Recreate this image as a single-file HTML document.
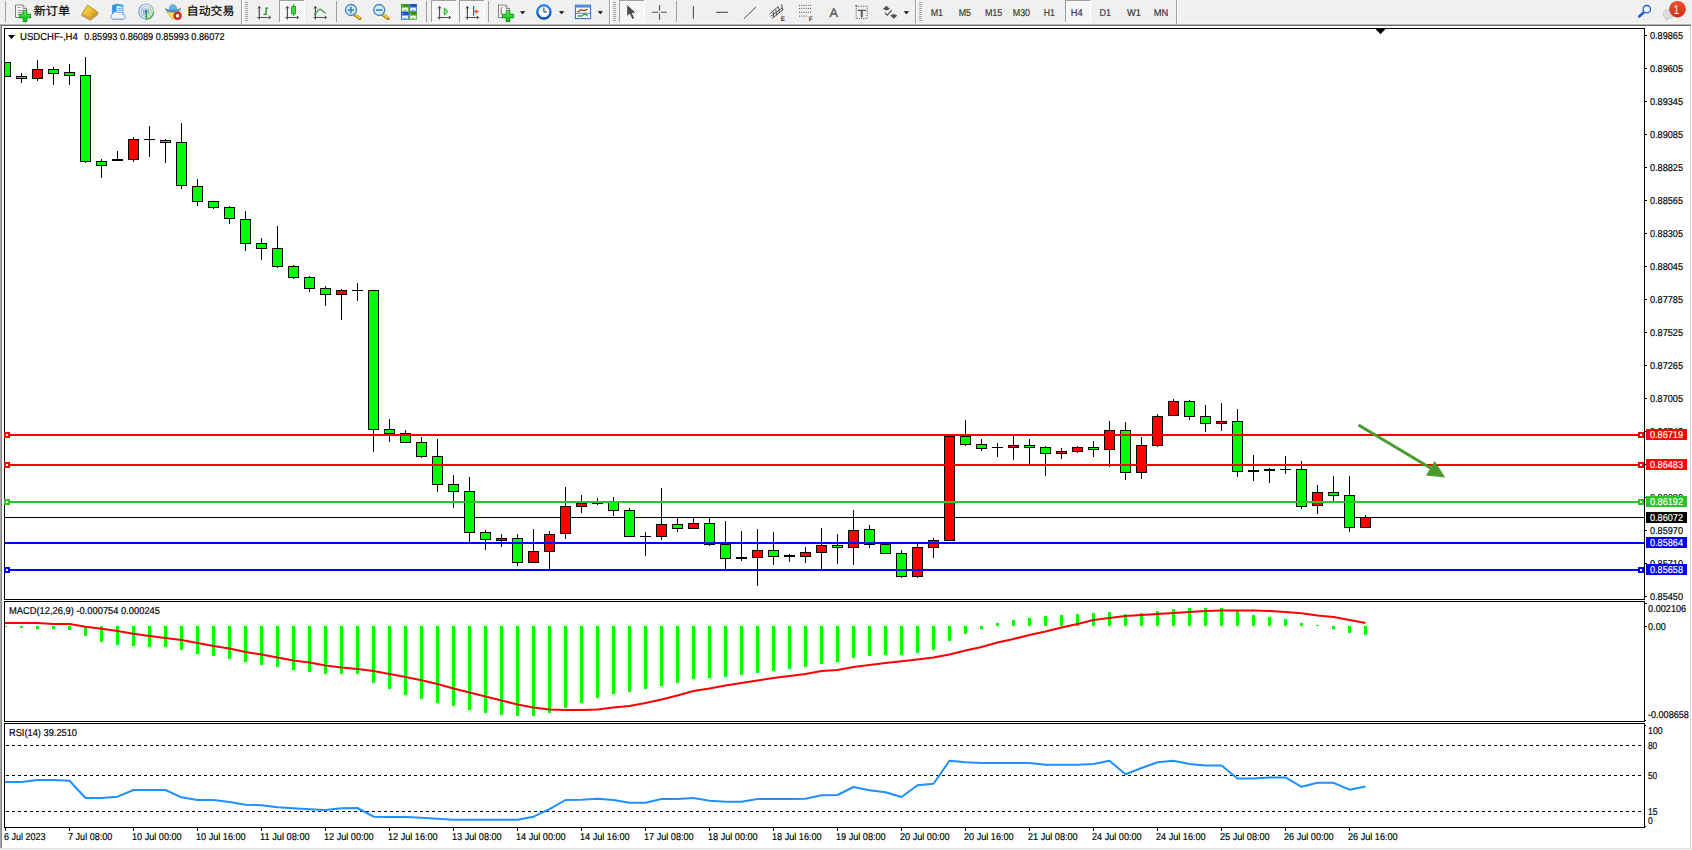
<!DOCTYPE html>
<html><head><meta charset="utf-8"><title>USDCHF-,H4</title>
<style>html,body{margin:0;padding:0;background:#fff;overflow:hidden}svg{display:block}text{font-family:"Liberation Sans", "Noto Sans CJK SC", sans-serif;white-space:pre;text-rendering:geometricPrecision}</style>
</head><body>
<svg width="1692" height="850" viewBox="0 0 1692 850">
<rect x="0" y="0" width="1692" height="850" fill="#fff"/>
<rect x="0" y="0" width="1692" height="24" fill="#f0f0f0"/>
<rect x="0" y="23" width="1691" height="1" fill="#f6f6f6"/>
<rect x="0" y="24" width="1691" height="1" fill="#b4b4b4"/>
<rect x="0" y="25" width="1691" height="1" fill="#696969"/>
<rect x="0" y="24" width="1" height="824" fill="#a9a9a9"/>
<rect x="1" y="26" width="1" height="822" fill="#808080"/>
<rect x="1690" y="26" width="1" height="822" fill="#d9d9d9"/>
<rect x="0" y="848" width="1692" height="1" fill="#e3e3e3"/>
<rect x="0" y="849" width="1692" height="1" fill="#f0f0f0"/>
<rect x="4" y="28" width="1641" height="1" fill="#000"/>
<rect x="4" y="599" width="1641" height="1" fill="#000"/>
<rect x="4" y="28" width="1" height="572" fill="#000"/>
<rect x="1644" y="28" width="1" height="572" fill="#000"/>
<rect x="4" y="601" width="1641" height="1" fill="#000"/>
<rect x="4" y="721" width="1641" height="1" fill="#000"/>
<rect x="4" y="601" width="1" height="121" fill="#000"/>
<rect x="1644" y="601" width="1" height="121" fill="#000"/>
<rect x="4" y="723" width="1641" height="1" fill="#000"/>
<rect x="4" y="827" width="1641" height="1" fill="#000"/>
<rect x="4" y="723" width="1" height="105" fill="#000"/>
<rect x="1644" y="723" width="1" height="105" fill="#000"/>
<g shape-rendering="crispEdges">
<rect x="5" y="517" width="1639" height="1" fill="#000"/>
<rect x="5" y="62" width="6" height="15" fill="#000"/>
<rect x="5" y="63" width="5" height="13" fill="#00ff00"/>
<rect x="21" y="73" width="1" height="10" fill="#000"/>
<rect x="16" y="76" width="11" height="3" fill="#000"/>
<rect x="17" y="77" width="9" height="1" fill="#00ff00"/>
<rect x="37" y="60" width="1" height="21" fill="#000"/>
<rect x="32" y="69" width="11" height="10" fill="#000"/>
<rect x="33" y="70" width="9" height="8" fill="#ff0000"/>
<rect x="53" y="67" width="1" height="18" fill="#000"/>
<rect x="48" y="69" width="11" height="5" fill="#000"/>
<rect x="49" y="70" width="9" height="3" fill="#00ff00"/>
<rect x="69" y="64" width="1" height="21" fill="#000"/>
<rect x="64" y="72" width="11" height="4" fill="#000"/>
<rect x="65" y="73" width="9" height="2" fill="#00ff00"/>
<rect x="85" y="57" width="1" height="106" fill="#000"/>
<rect x="80" y="75" width="11" height="87" fill="#000"/>
<rect x="81" y="76" width="9" height="85" fill="#00ff00"/>
<rect x="101" y="159" width="1" height="19" fill="#000"/>
<rect x="96" y="161" width="11" height="5" fill="#000"/>
<rect x="97" y="162" width="9" height="3" fill="#00ff00"/>
<rect x="117" y="151" width="1" height="10" fill="#000"/>
<rect x="112" y="159" width="11" height="2" fill="#000"/>
<rect x="133" y="137" width="1" height="25" fill="#000"/>
<rect x="128" y="139" width="11" height="21" fill="#000"/>
<rect x="129" y="140" width="9" height="19" fill="#ff0000"/>
<rect x="149" y="126" width="1" height="31" fill="#000"/>
<rect x="144" y="139" width="11" height="1" fill="#000"/>
<rect x="165" y="139" width="1" height="24" fill="#000"/>
<rect x="160" y="140" width="11" height="3" fill="#000"/>
<rect x="161" y="141" width="9" height="1" fill="#00ff00"/>
<rect x="181" y="123" width="1" height="66" fill="#000"/>
<rect x="176" y="142" width="11" height="44" fill="#000"/>
<rect x="177" y="143" width="9" height="42" fill="#00ff00"/>
<rect x="197" y="179" width="1" height="27" fill="#000"/>
<rect x="192" y="186" width="11" height="16" fill="#000"/>
<rect x="193" y="187" width="9" height="14" fill="#00ff00"/>
<rect x="213" y="201" width="1" height="8" fill="#000"/>
<rect x="208" y="201" width="11" height="7" fill="#000"/>
<rect x="209" y="202" width="9" height="5" fill="#00ff00"/>
<rect x="229" y="206" width="1" height="18" fill="#000"/>
<rect x="224" y="207" width="11" height="12" fill="#000"/>
<rect x="225" y="208" width="9" height="10" fill="#00ff00"/>
<rect x="245" y="211" width="1" height="40" fill="#000"/>
<rect x="240" y="219" width="11" height="25" fill="#000"/>
<rect x="241" y="220" width="9" height="23" fill="#00ff00"/>
<rect x="261" y="238" width="1" height="22" fill="#000"/>
<rect x="256" y="243" width="11" height="6" fill="#000"/>
<rect x="257" y="244" width="9" height="4" fill="#00ff00"/>
<rect x="277" y="226" width="1" height="42" fill="#000"/>
<rect x="272" y="248" width="11" height="19" fill="#000"/>
<rect x="273" y="249" width="9" height="17" fill="#00ff00"/>
<rect x="293" y="265" width="1" height="14" fill="#000"/>
<rect x="288" y="266" width="11" height="12" fill="#000"/>
<rect x="289" y="267" width="9" height="10" fill="#00ff00"/>
<rect x="309" y="276" width="1" height="16" fill="#000"/>
<rect x="304" y="277" width="11" height="12" fill="#000"/>
<rect x="305" y="278" width="9" height="10" fill="#00ff00"/>
<rect x="325" y="286" width="1" height="20" fill="#000"/>
<rect x="320" y="288" width="11" height="7" fill="#000"/>
<rect x="321" y="289" width="9" height="5" fill="#00ff00"/>
<rect x="341" y="289" width="1" height="31" fill="#000"/>
<rect x="336" y="290" width="11" height="5" fill="#000"/>
<rect x="337" y="291" width="9" height="3" fill="#ff0000"/>
<rect x="357" y="283" width="1" height="18" fill="#000"/>
<rect x="352" y="290" width="11" height="1" fill="#000"/>
<rect x="373" y="290" width="1" height="162" fill="#000"/>
<rect x="368" y="290" width="11" height="140" fill="#000"/>
<rect x="369" y="291" width="9" height="138" fill="#00ff00"/>
<rect x="389" y="419" width="1" height="23" fill="#000"/>
<rect x="384" y="429" width="11" height="5" fill="#000"/>
<rect x="385" y="430" width="9" height="3" fill="#00ff00"/>
<rect x="405" y="430" width="1" height="13" fill="#000"/>
<rect x="400" y="433" width="11" height="10" fill="#000"/>
<rect x="401" y="434" width="9" height="8" fill="#00ff00"/>
<rect x="421" y="437" width="1" height="21" fill="#000"/>
<rect x="416" y="442" width="11" height="15" fill="#000"/>
<rect x="417" y="443" width="9" height="13" fill="#00ff00"/>
<rect x="437" y="439" width="1" height="53" fill="#000"/>
<rect x="432" y="456" width="11" height="29" fill="#000"/>
<rect x="433" y="457" width="9" height="27" fill="#00ff00"/>
<rect x="453" y="475" width="1" height="33" fill="#000"/>
<rect x="448" y="484" width="11" height="8" fill="#000"/>
<rect x="449" y="485" width="9" height="6" fill="#00ff00"/>
<rect x="469" y="477" width="1" height="66" fill="#000"/>
<rect x="464" y="491" width="11" height="42" fill="#000"/>
<rect x="465" y="492" width="9" height="40" fill="#00ff00"/>
<rect x="485" y="530" width="1" height="20" fill="#000"/>
<rect x="480" y="532" width="11" height="8" fill="#000"/>
<rect x="481" y="533" width="9" height="6" fill="#00ff00"/>
<rect x="501" y="534" width="1" height="13" fill="#000"/>
<rect x="496" y="538" width="11" height="3" fill="#000"/>
<rect x="497" y="539" width="9" height="1" fill="#ff0000"/>
<rect x="517" y="534" width="1" height="32" fill="#000"/>
<rect x="512" y="538" width="11" height="25" fill="#000"/>
<rect x="513" y="539" width="9" height="23" fill="#00ff00"/>
<rect x="533" y="529" width="1" height="34" fill="#000"/>
<rect x="528" y="551" width="11" height="12" fill="#000"/>
<rect x="529" y="552" width="9" height="10" fill="#ff0000"/>
<rect x="549" y="531" width="1" height="39" fill="#000"/>
<rect x="544" y="534" width="11" height="18" fill="#000"/>
<rect x="545" y="535" width="9" height="16" fill="#ff0000"/>
<rect x="565" y="487" width="1" height="52" fill="#000"/>
<rect x="560" y="506" width="11" height="28" fill="#000"/>
<rect x="561" y="507" width="9" height="26" fill="#ff0000"/>
<rect x="581" y="495" width="1" height="18" fill="#000"/>
<rect x="576" y="503" width="11" height="4" fill="#000"/>
<rect x="577" y="504" width="9" height="2" fill="#ff0000"/>
<rect x="597" y="498" width="1" height="7" fill="#000"/>
<rect x="592" y="503" width="11" height="1" fill="#000"/>
<rect x="613" y="497" width="1" height="19" fill="#000"/>
<rect x="608" y="502" width="11" height="9" fill="#000"/>
<rect x="609" y="503" width="9" height="7" fill="#00ff00"/>
<rect x="629" y="508" width="1" height="29" fill="#000"/>
<rect x="624" y="510" width="11" height="27" fill="#000"/>
<rect x="625" y="511" width="9" height="25" fill="#00ff00"/>
<rect x="645" y="532" width="1" height="24" fill="#000"/>
<rect x="640" y="536" width="11" height="1" fill="#000"/>
<rect x="661" y="488" width="1" height="52" fill="#000"/>
<rect x="656" y="524" width="11" height="13" fill="#000"/>
<rect x="657" y="525" width="9" height="11" fill="#ff0000"/>
<rect x="677" y="518" width="1" height="14" fill="#000"/>
<rect x="672" y="524" width="11" height="5" fill="#000"/>
<rect x="673" y="525" width="9" height="3" fill="#00ff00"/>
<rect x="693" y="518" width="1" height="11" fill="#000"/>
<rect x="688" y="523" width="11" height="6" fill="#000"/>
<rect x="689" y="524" width="9" height="4" fill="#ff0000"/>
<rect x="709" y="518" width="1" height="28" fill="#000"/>
<rect x="704" y="523" width="11" height="22" fill="#000"/>
<rect x="705" y="524" width="9" height="20" fill="#00ff00"/>
<rect x="725" y="521" width="1" height="48" fill="#000"/>
<rect x="720" y="544" width="11" height="15" fill="#000"/>
<rect x="721" y="545" width="9" height="13" fill="#00ff00"/>
<rect x="741" y="531" width="1" height="30" fill="#000"/>
<rect x="736" y="557" width="11" height="2" fill="#000"/>
<rect x="757" y="529" width="1" height="57" fill="#000"/>
<rect x="752" y="550" width="11" height="8" fill="#000"/>
<rect x="753" y="551" width="9" height="6" fill="#ff0000"/>
<rect x="773" y="532" width="1" height="33" fill="#000"/>
<rect x="768" y="550" width="11" height="7" fill="#000"/>
<rect x="769" y="551" width="9" height="5" fill="#00ff00"/>
<rect x="789" y="554" width="1" height="8" fill="#000"/>
<rect x="784" y="555" width="11" height="2" fill="#000"/>
<rect x="805" y="547" width="1" height="16" fill="#000"/>
<rect x="800" y="552" width="11" height="5" fill="#000"/>
<rect x="801" y="553" width="9" height="3" fill="#ff0000"/>
<rect x="821" y="528" width="1" height="42" fill="#000"/>
<rect x="816" y="545" width="11" height="8" fill="#000"/>
<rect x="817" y="546" width="9" height="6" fill="#ff0000"/>
<rect x="837" y="534" width="1" height="30" fill="#000"/>
<rect x="832" y="545" width="11" height="3" fill="#000"/>
<rect x="833" y="546" width="9" height="1" fill="#00ff00"/>
<rect x="853" y="510" width="1" height="55" fill="#000"/>
<rect x="848" y="530" width="11" height="18" fill="#000"/>
<rect x="849" y="531" width="9" height="16" fill="#ff0000"/>
<rect x="869" y="525" width="1" height="23" fill="#000"/>
<rect x="864" y="529" width="11" height="16" fill="#000"/>
<rect x="865" y="530" width="9" height="14" fill="#00ff00"/>
<rect x="885" y="544" width="1" height="10" fill="#000"/>
<rect x="880" y="544" width="11" height="10" fill="#000"/>
<rect x="881" y="545" width="9" height="8" fill="#00ff00"/>
<rect x="901" y="550" width="1" height="28" fill="#000"/>
<rect x="896" y="553" width="11" height="24" fill="#000"/>
<rect x="897" y="554" width="9" height="22" fill="#00ff00"/>
<rect x="917" y="544" width="1" height="34" fill="#000"/>
<rect x="912" y="547" width="11" height="30" fill="#000"/>
<rect x="913" y="548" width="9" height="28" fill="#ff0000"/>
<rect x="933" y="538" width="1" height="20" fill="#000"/>
<rect x="928" y="540" width="11" height="8" fill="#000"/>
<rect x="929" y="541" width="9" height="6" fill="#ff0000"/>
<rect x="949" y="436" width="1" height="105" fill="#000"/>
<rect x="944" y="436" width="11" height="105" fill="#000"/>
<rect x="945" y="437" width="9" height="103" fill="#ff0000"/>
<rect x="965" y="420" width="1" height="26" fill="#000"/>
<rect x="960" y="436" width="11" height="9" fill="#000"/>
<rect x="961" y="437" width="9" height="7" fill="#00ff00"/>
<rect x="981" y="439" width="1" height="12" fill="#000"/>
<rect x="976" y="444" width="11" height="5" fill="#000"/>
<rect x="977" y="445" width="9" height="3" fill="#00ff00"/>
<rect x="997" y="443" width="1" height="14" fill="#000"/>
<rect x="992" y="447" width="11" height="1" fill="#000"/>
<rect x="1013" y="436" width="1" height="24" fill="#000"/>
<rect x="1008" y="445" width="11" height="3" fill="#000"/>
<rect x="1009" y="446" width="9" height="1" fill="#ff0000"/>
<rect x="1029" y="439" width="1" height="26" fill="#000"/>
<rect x="1024" y="445" width="11" height="3" fill="#000"/>
<rect x="1025" y="446" width="9" height="1" fill="#00ff00"/>
<rect x="1045" y="446" width="1" height="30" fill="#000"/>
<rect x="1040" y="447" width="11" height="7" fill="#000"/>
<rect x="1041" y="448" width="9" height="5" fill="#00ff00"/>
<rect x="1061" y="448" width="1" height="11" fill="#000"/>
<rect x="1056" y="451" width="11" height="3" fill="#000"/>
<rect x="1057" y="452" width="9" height="1" fill="#ff0000"/>
<rect x="1077" y="446" width="1" height="7" fill="#000"/>
<rect x="1072" y="447" width="11" height="5" fill="#000"/>
<rect x="1073" y="448" width="9" height="3" fill="#ff0000"/>
<rect x="1093" y="441" width="1" height="16" fill="#000"/>
<rect x="1088" y="447" width="11" height="3" fill="#000"/>
<rect x="1089" y="448" width="9" height="1" fill="#00ff00"/>
<rect x="1109" y="421" width="1" height="46" fill="#000"/>
<rect x="1104" y="430" width="11" height="20" fill="#000"/>
<rect x="1105" y="431" width="9" height="18" fill="#ff0000"/>
<rect x="1125" y="422" width="1" height="58" fill="#000"/>
<rect x="1120" y="430" width="11" height="43" fill="#000"/>
<rect x="1121" y="431" width="9" height="41" fill="#00ff00"/>
<rect x="1141" y="437" width="1" height="42" fill="#000"/>
<rect x="1136" y="445" width="11" height="28" fill="#000"/>
<rect x="1137" y="446" width="9" height="26" fill="#ff0000"/>
<rect x="1157" y="414" width="1" height="33" fill="#000"/>
<rect x="1152" y="416" width="11" height="30" fill="#000"/>
<rect x="1153" y="417" width="9" height="28" fill="#ff0000"/>
<rect x="1173" y="399" width="1" height="17" fill="#000"/>
<rect x="1168" y="401" width="11" height="15" fill="#000"/>
<rect x="1169" y="402" width="9" height="13" fill="#ff0000"/>
<rect x="1189" y="400" width="1" height="20" fill="#000"/>
<rect x="1184" y="401" width="11" height="16" fill="#000"/>
<rect x="1185" y="402" width="9" height="14" fill="#00ff00"/>
<rect x="1205" y="405" width="1" height="27" fill="#000"/>
<rect x="1200" y="416" width="11" height="8" fill="#000"/>
<rect x="1201" y="417" width="9" height="6" fill="#00ff00"/>
<rect x="1221" y="403" width="1" height="28" fill="#000"/>
<rect x="1216" y="421" width="11" height="3" fill="#000"/>
<rect x="1217" y="422" width="9" height="1" fill="#ff0000"/>
<rect x="1237" y="409" width="1" height="68" fill="#000"/>
<rect x="1232" y="421" width="11" height="51" fill="#000"/>
<rect x="1233" y="422" width="9" height="49" fill="#00ff00"/>
<rect x="1253" y="455" width="1" height="26" fill="#000"/>
<rect x="1248" y="470" width="11" height="2" fill="#000"/>
<rect x="1269" y="468" width="1" height="15" fill="#000"/>
<rect x="1264" y="469" width="11" height="2" fill="#000"/>
<rect x="1285" y="456" width="1" height="18" fill="#000"/>
<rect x="1280" y="469" width="11" height="1" fill="#000"/>
<rect x="1301" y="461" width="1" height="48" fill="#000"/>
<rect x="1296" y="469" width="11" height="38" fill="#000"/>
<rect x="1297" y="470" width="9" height="36" fill="#00ff00"/>
<rect x="1317" y="485" width="1" height="29" fill="#000"/>
<rect x="1312" y="492" width="11" height="14" fill="#000"/>
<rect x="1313" y="493" width="9" height="12" fill="#ff0000"/>
<rect x="1333" y="476" width="1" height="25" fill="#000"/>
<rect x="1328" y="492" width="11" height="4" fill="#000"/>
<rect x="1329" y="493" width="9" height="2" fill="#00ff00"/>
<rect x="1349" y="476" width="1" height="56" fill="#000"/>
<rect x="1344" y="495" width="11" height="33" fill="#000"/>
<rect x="1345" y="496" width="9" height="31" fill="#00ff00"/>
<rect x="1365" y="515" width="1" height="13" fill="#000"/>
<rect x="1360" y="517" width="11" height="11" fill="#000"/>
<rect x="1361" y="518" width="9" height="9" fill="#ff0000"/>
<rect x="5" y="434" width="1639" height="2" fill="#ff0000"/>
<rect x="4" y="432" width="6" height="6" fill="#ff0000"/>
<rect x="6" y="434" width="2" height="2" fill="#fff"/>
<rect x="1638" y="432" width="6" height="6" fill="#ff0000"/>
<rect x="1640" y="434" width="2" height="2" fill="#fff"/>
<rect x="5" y="464" width="1639" height="2" fill="#ff0000"/>
<rect x="4" y="462" width="6" height="6" fill="#ff0000"/>
<rect x="6" y="464" width="2" height="2" fill="#fff"/>
<rect x="1638" y="462" width="6" height="6" fill="#ff0000"/>
<rect x="1640" y="464" width="2" height="2" fill="#fff"/>
<rect x="5" y="501" width="1639" height="2" fill="#28c428"/>
<rect x="4" y="499" width="6" height="6" fill="#28c428"/>
<rect x="6" y="501" width="2" height="2" fill="#fff"/>
<rect x="1638" y="499" width="6" height="6" fill="#28c428"/>
<rect x="1640" y="501" width="2" height="2" fill="#fff"/>
<rect x="5" y="542" width="1639" height="2" fill="#0000ff"/>
<rect x="5" y="569" width="1639" height="2" fill="#0000ff"/>
<rect x="4" y="567" width="6" height="6" fill="#0000ff"/>
<rect x="6" y="569" width="2" height="2" fill="#fff"/>
<rect x="1638" y="567" width="6" height="6" fill="#0000ff"/>
<rect x="1640" y="569" width="2" height="2" fill="#fff"/>
</g>
<line x1="1358.5" y1="425" x2="1433" y2="469.5" stroke="#4a9a2e" stroke-width="3"/>
<polygon points="1445.2,477.6 1426,475.6 1434.7,461" fill="#4a9a2e"/>
<polygon points="1375.5,29 1385.5,29 1380.5,34.2" fill="#000"/>
<polygon points="8,35 15,35 11.5,39" fill="#000"/>
<text x="20.1" y="39.8" font-size="10" fill="#000" stroke="#000" stroke-width="0.18" textLength="57.7" lengthAdjust="spacingAndGlyphs">USDCHF-,H4</text>
<text x="84.3" y="39.8" font-size="10" fill="#000" stroke="#000" stroke-width="0.18" textLength="140.2" lengthAdjust="spacingAndGlyphs">0.85993 0.86089 0.85993 0.86072</text>
<rect x="1645" y="35" width="2" height="1" fill="#000" shape-rendering="crispEdges"/>
<text x="1650" y="39.0" font-size="10" fill="#000" stroke="#000" stroke-width="0.18" textLength="33" lengthAdjust="spacingAndGlyphs">0.89865</text>
<rect x="1645" y="68" width="2" height="1" fill="#000" shape-rendering="crispEdges"/>
<text x="1650" y="72.0" font-size="10" fill="#000" stroke="#000" stroke-width="0.18" textLength="33" lengthAdjust="spacingAndGlyphs">0.89605</text>
<rect x="1645" y="101" width="2" height="1" fill="#000" shape-rendering="crispEdges"/>
<text x="1650" y="105.0" font-size="10" fill="#000" stroke="#000" stroke-width="0.18" textLength="33" lengthAdjust="spacingAndGlyphs">0.89345</text>
<rect x="1645" y="134" width="2" height="1" fill="#000" shape-rendering="crispEdges"/>
<text x="1650" y="138.0" font-size="10" fill="#000" stroke="#000" stroke-width="0.18" textLength="33" lengthAdjust="spacingAndGlyphs">0.89085</text>
<rect x="1645" y="167" width="2" height="1" fill="#000" shape-rendering="crispEdges"/>
<text x="1650" y="171.0" font-size="10" fill="#000" stroke="#000" stroke-width="0.18" textLength="33" lengthAdjust="spacingAndGlyphs">0.88825</text>
<rect x="1645" y="200" width="2" height="1" fill="#000" shape-rendering="crispEdges"/>
<text x="1650" y="204.0" font-size="10" fill="#000" stroke="#000" stroke-width="0.18" textLength="33" lengthAdjust="spacingAndGlyphs">0.88565</text>
<rect x="1645" y="233" width="2" height="1" fill="#000" shape-rendering="crispEdges"/>
<text x="1650" y="237.0" font-size="10" fill="#000" stroke="#000" stroke-width="0.18" textLength="33" lengthAdjust="spacingAndGlyphs">0.88305</text>
<rect x="1645" y="266" width="2" height="1" fill="#000" shape-rendering="crispEdges"/>
<text x="1650" y="270.0" font-size="10" fill="#000" stroke="#000" stroke-width="0.18" textLength="33" lengthAdjust="spacingAndGlyphs">0.88045</text>
<rect x="1645" y="299" width="2" height="1" fill="#000" shape-rendering="crispEdges"/>
<text x="1650" y="303.0" font-size="10" fill="#000" stroke="#000" stroke-width="0.18" textLength="33" lengthAdjust="spacingAndGlyphs">0.87785</text>
<rect x="1645" y="332" width="2" height="1" fill="#000" shape-rendering="crispEdges"/>
<text x="1650" y="336.0" font-size="10" fill="#000" stroke="#000" stroke-width="0.18" textLength="33" lengthAdjust="spacingAndGlyphs">0.87525</text>
<rect x="1645" y="365" width="2" height="1" fill="#000" shape-rendering="crispEdges"/>
<text x="1650" y="369.0" font-size="10" fill="#000" stroke="#000" stroke-width="0.18" textLength="33" lengthAdjust="spacingAndGlyphs">0.87265</text>
<rect x="1645" y="398" width="2" height="1" fill="#000" shape-rendering="crispEdges"/>
<text x="1650" y="402.0" font-size="10" fill="#000" stroke="#000" stroke-width="0.18" textLength="33" lengthAdjust="spacingAndGlyphs">0.87005</text>
<rect x="1645" y="431" width="2" height="1" fill="#000" shape-rendering="crispEdges"/>
<text x="1650" y="435.0" font-size="10" fill="#000" stroke="#000" stroke-width="0.18" textLength="33" lengthAdjust="spacingAndGlyphs">0.86745</text>
<rect x="1645" y="464" width="2" height="1" fill="#000" shape-rendering="crispEdges"/>
<text x="1650" y="468.0" font-size="10" fill="#000" stroke="#000" stroke-width="0.18" textLength="33" lengthAdjust="spacingAndGlyphs">0.86485</text>
<rect x="1645" y="497" width="2" height="1" fill="#000" shape-rendering="crispEdges"/>
<text x="1650" y="501.0" font-size="10" fill="#000" stroke="#000" stroke-width="0.18" textLength="33" lengthAdjust="spacingAndGlyphs">0.86230</text>
<rect x="1645" y="530" width="2" height="1" fill="#000" shape-rendering="crispEdges"/>
<text x="1650" y="534.0" font-size="10" fill="#000" stroke="#000" stroke-width="0.18" textLength="33" lengthAdjust="spacingAndGlyphs">0.85970</text>
<rect x="1645" y="563" width="2" height="1" fill="#000" shape-rendering="crispEdges"/>
<text x="1650" y="567.0" font-size="10" fill="#000" stroke="#000" stroke-width="0.18" textLength="33" lengthAdjust="spacingAndGlyphs">0.85710</text>
<rect x="1645" y="596" width="2" height="1" fill="#000" shape-rendering="crispEdges"/>
<text x="1650" y="600.0" font-size="10" fill="#000" stroke="#000" stroke-width="0.18" textLength="33" lengthAdjust="spacingAndGlyphs">0.85450</text>
<rect x="1646" y="429" width="41" height="11" fill="#ff0000" shape-rendering="crispEdges"/>
<text x="1650" y="438" font-size="10" fill="#fff" stroke="#fff" stroke-width="0.18" textLength="33" lengthAdjust="spacingAndGlyphs">0.86719</text>
<rect x="1646" y="459" width="41" height="11" fill="#ff0000" shape-rendering="crispEdges"/>
<text x="1650" y="468" font-size="10" fill="#fff" stroke="#fff" stroke-width="0.18" textLength="33" lengthAdjust="spacingAndGlyphs">0.86483</text>
<rect x="1646" y="496" width="41" height="11" fill="#28c428" shape-rendering="crispEdges"/>
<text x="1650" y="505" font-size="10" fill="#fff" stroke="#fff" stroke-width="0.18" textLength="33" lengthAdjust="spacingAndGlyphs">0.86192</text>
<rect x="1646" y="512" width="41" height="11" fill="#000" shape-rendering="crispEdges"/>
<text x="1650" y="521" font-size="10" fill="#fff" stroke="#fff" stroke-width="0.18" textLength="33" lengthAdjust="spacingAndGlyphs">0.86072</text>
<rect x="1646" y="537" width="41" height="11" fill="#0000ff" shape-rendering="crispEdges"/>
<text x="1650" y="546" font-size="10" fill="#fff" stroke="#fff" stroke-width="0.18" textLength="33" lengthAdjust="spacingAndGlyphs">0.85864</text>
<rect x="1646" y="564" width="41" height="11" fill="#0000ff" shape-rendering="crispEdges"/>
<text x="1650" y="573" font-size="10" fill="#fff" stroke="#fff" stroke-width="0.18" textLength="33" lengthAdjust="spacingAndGlyphs">0.85658</text>
<g shape-rendering="crispEdges">
<rect x="5" y="626" width="2" height="1" fill="#00ff00"/>
<rect x="20" y="626" width="3" height="2" fill="#00ff00"/>
<rect x="36" y="626" width="3" height="3" fill="#00ff00"/>
<rect x="52" y="626" width="3" height="3" fill="#00ff00"/>
<rect x="68" y="626" width="3" height="4" fill="#00ff00"/>
<rect x="84" y="626" width="3" height="10" fill="#00ff00"/>
<rect x="100" y="626" width="3" height="16" fill="#00ff00"/>
<rect x="116" y="626" width="3" height="19" fill="#00ff00"/>
<rect x="132" y="626" width="3" height="20" fill="#00ff00"/>
<rect x="148" y="626" width="3" height="21" fill="#00ff00"/>
<rect x="164" y="626" width="3" height="21" fill="#00ff00"/>
<rect x="180" y="626" width="3" height="24" fill="#00ff00"/>
<rect x="196" y="626" width="3" height="28" fill="#00ff00"/>
<rect x="212" y="626" width="3" height="30" fill="#00ff00"/>
<rect x="228" y="626" width="3" height="33" fill="#00ff00"/>
<rect x="244" y="626" width="3" height="36" fill="#00ff00"/>
<rect x="260" y="626" width="3" height="39" fill="#00ff00"/>
<rect x="276" y="626" width="3" height="41" fill="#00ff00"/>
<rect x="292" y="626" width="3" height="44" fill="#00ff00"/>
<rect x="308" y="626" width="3" height="46" fill="#00ff00"/>
<rect x="324" y="626" width="3" height="48" fill="#00ff00"/>
<rect x="340" y="626" width="3" height="48" fill="#00ff00"/>
<rect x="356" y="626" width="3" height="48" fill="#00ff00"/>
<rect x="372" y="626" width="3" height="57" fill="#00ff00"/>
<rect x="388" y="626" width="3" height="63" fill="#00ff00"/>
<rect x="404" y="626" width="3" height="69" fill="#00ff00"/>
<rect x="420" y="626" width="3" height="73" fill="#00ff00"/>
<rect x="436" y="626" width="3" height="77" fill="#00ff00"/>
<rect x="452" y="626" width="3" height="80" fill="#00ff00"/>
<rect x="468" y="626" width="3" height="84" fill="#00ff00"/>
<rect x="484" y="626" width="3" height="87" fill="#00ff00"/>
<rect x="500" y="626" width="3" height="89" fill="#00ff00"/>
<rect x="516" y="626" width="3" height="90" fill="#00ff00"/>
<rect x="532" y="626" width="3" height="90" fill="#00ff00"/>
<rect x="548" y="626" width="3" height="87" fill="#00ff00"/>
<rect x="564" y="626" width="3" height="82" fill="#00ff00"/>
<rect x="580" y="626" width="3" height="77" fill="#00ff00"/>
<rect x="596" y="626" width="3" height="72" fill="#00ff00"/>
<rect x="612" y="626" width="3" height="68" fill="#00ff00"/>
<rect x="628" y="626" width="3" height="66" fill="#00ff00"/>
<rect x="644" y="626" width="3" height="63" fill="#00ff00"/>
<rect x="660" y="626" width="3" height="60" fill="#00ff00"/>
<rect x="676" y="626" width="3" height="57" fill="#00ff00"/>
<rect x="692" y="626" width="3" height="53" fill="#00ff00"/>
<rect x="708" y="626" width="3" height="52" fill="#00ff00"/>
<rect x="724" y="626" width="3" height="51" fill="#00ff00"/>
<rect x="740" y="626" width="3" height="49" fill="#00ff00"/>
<rect x="756" y="626" width="3" height="47" fill="#00ff00"/>
<rect x="772" y="626" width="3" height="45" fill="#00ff00"/>
<rect x="788" y="626" width="3" height="43" fill="#00ff00"/>
<rect x="804" y="626" width="3" height="41" fill="#00ff00"/>
<rect x="820" y="626" width="3" height="38" fill="#00ff00"/>
<rect x="836" y="626" width="3" height="36" fill="#00ff00"/>
<rect x="852" y="626" width="3" height="32" fill="#00ff00"/>
<rect x="868" y="626" width="3" height="30" fill="#00ff00"/>
<rect x="884" y="626" width="3" height="29" fill="#00ff00"/>
<rect x="900" y="626" width="3" height="29" fill="#00ff00"/>
<rect x="916" y="626" width="3" height="27" fill="#00ff00"/>
<rect x="932" y="626" width="3" height="24" fill="#00ff00"/>
<rect x="948" y="626" width="3" height="15" fill="#00ff00"/>
<rect x="964" y="626" width="3" height="8" fill="#00ff00"/>
<rect x="980" y="626" width="3" height="3" fill="#00ff00"/>
<rect x="1332" y="626" width="3" height="3" fill="#00ff00"/>
<rect x="1348" y="626" width="3" height="7" fill="#00ff00"/>
<rect x="1364" y="626" width="3" height="9" fill="#00ff00"/>
<rect x="996" y="623" width="3" height="3" fill="#00ff00"/>
<rect x="1012" y="620" width="3" height="6" fill="#00ff00"/>
<rect x="1028" y="618" width="3" height="8" fill="#00ff00"/>
<rect x="1044" y="616" width="3" height="10" fill="#00ff00"/>
<rect x="1060" y="615" width="3" height="11" fill="#00ff00"/>
<rect x="1076" y="614" width="3" height="12" fill="#00ff00"/>
<rect x="1092" y="613" width="3" height="13" fill="#00ff00"/>
<rect x="1108" y="612" width="3" height="14" fill="#00ff00"/>
<rect x="1124" y="614" width="3" height="12" fill="#00ff00"/>
<rect x="1140" y="613" width="3" height="13" fill="#00ff00"/>
<rect x="1156" y="611" width="3" height="15" fill="#00ff00"/>
<rect x="1172" y="609" width="3" height="17" fill="#00ff00"/>
<rect x="1188" y="608" width="3" height="18" fill="#00ff00"/>
<rect x="1204" y="608" width="3" height="18" fill="#00ff00"/>
<rect x="1220" y="608" width="3" height="18" fill="#00ff00"/>
<rect x="1236" y="611" width="3" height="15" fill="#00ff00"/>
<rect x="1252" y="615" width="3" height="11" fill="#00ff00"/>
<rect x="1268" y="617" width="3" height="9" fill="#00ff00"/>
<rect x="1284" y="619" width="3" height="7" fill="#00ff00"/>
<rect x="1300" y="623" width="3" height="3" fill="#00ff00"/>
<rect x="1316" y="625" width="3" height="1" fill="#00ff00"/>
</g>
<polyline points="5,623 21.5,623 37.5,623 53.5,624 69.5,624 85.5,626.75 101.5,628.75 117.5,631 133.5,633.75 149.5,636 165.5,638 181.5,640 197.5,643 213.5,646 229.5,648.5 245.5,652 261.5,654.5 277.5,657.5 293.5,660.5 309.5,662.5 325.5,665.5 341.5,667.5 357.5,669 373.5,671 389.5,674 405.5,677 421.5,680.25 437.5,684 453.5,688.5 469.5,692.5 485.5,696.5 501.5,700.5 517.5,704.5 533.5,707.5 549.5,709.5 565.5,710 581.5,710 597.5,709.5 613.5,707.5 629.5,706 645.5,703 661.5,699.5 677.5,695.5 693.5,691 709.5,688.5 725.5,685.5 741.5,683 757.5,680.5 773.5,678 789.5,676 805.5,674 821.5,671 837.5,670 853.5,667 869.5,665 885.5,663 901.5,661.25 917.5,659.5 933.5,657.5 949.5,654.5 965.5,650.5 981.5,647 997.5,642.5 1013.5,639 1029.5,635 1045.5,631.5 1061.5,627.5 1077.5,624 1093.5,620 1109.5,618 1125.5,616 1141.5,615 1157.5,614 1173.5,613 1189.5,612 1205.5,611 1221.5,610.5 1237.5,610.5 1253.5,610.5 1269.5,611 1285.5,612 1301.5,613.3 1317.5,615.4 1333.5,617.1 1349.5,620 1365.5,623" fill="none" stroke="#ff0000" stroke-width="2" stroke-linejoin="round"/>
<text x="9" y="614" font-size="10" fill="#000" stroke="#000" stroke-width="0.18" textLength="151" lengthAdjust="spacingAndGlyphs">MACD(12,26,9) -0.000754 0.000245</text>
<rect x="1645" y="603" width="2" height="1" fill="#000" shape-rendering="crispEdges"/>
<rect x="1645" y="626" width="2" height="1" fill="#000" shape-rendering="crispEdges"/>
<rect x="1645" y="720" width="1" height="1" fill="#000" shape-rendering="crispEdges"/>
<rect x="1645" y="725" width="1" height="1" fill="#000" shape-rendering="crispEdges"/>
<rect x="1645" y="826" width="1" height="1" fill="#000" shape-rendering="crispEdges"/>
<text x="1648.1" y="611.8" font-size="10" fill="#000" stroke="#000" stroke-width="0.18" textLength="38.1" lengthAdjust="spacingAndGlyphs">0.002106</text>
<text x="1648.1" y="630" font-size="10" fill="#000" stroke="#000" stroke-width="0.18" textLength="17.6" lengthAdjust="spacingAndGlyphs">0.00</text>
<text x="1647.9" y="717.9" font-size="10" fill="#000" stroke="#000" stroke-width="0.18" textLength="41" lengthAdjust="spacingAndGlyphs">-0.008658</text>
<line x1="5" y1="745.5" x2="1642" y2="745.5" stroke="#000" stroke-width="1" stroke-dasharray="3 3" stroke-dashoffset="5" shape-rendering="crispEdges"/>
<line x1="5" y1="775.5" x2="1642" y2="775.5" stroke="#000" stroke-width="1" stroke-dasharray="3 3" stroke-dashoffset="5" shape-rendering="crispEdges"/>
<line x1="5" y1="811.5" x2="1642" y2="811.5" stroke="#000" stroke-width="1" stroke-dasharray="3 3" stroke-dashoffset="5" shape-rendering="crispEdges"/>
<polyline points="5,782 21.5,782 37.5,780 53.5,780 69.5,780.7 85.5,798 101.5,798 117.5,796.7 133.5,790 149.5,790 165.5,790 181.5,797.3 197.5,800 213.5,800 229.5,802 245.5,804.7 261.5,805.3 277.5,807.3 293.5,808.3 309.5,809.3 325.5,810 341.5,808.3 357.5,808 373.5,816.7 389.5,817 405.5,817 421.5,817.7 437.5,818.7 453.5,819.7 469.5,819.7 485.5,819.7 501.5,819.7 517.5,819.7 533.5,816.7 549.5,809.2 565.5,800 581.5,799.7 597.5,798.7 613.5,800 629.5,802.7 645.5,802.7 661.5,799 677.5,799 693.5,798 709.5,800.7 725.5,801.7 741.5,801.7 757.5,799 773.5,799 789.5,799 805.5,798.7 821.5,795.3 837.5,795 853.5,787 869.5,790.3 885.5,792.3 901.5,797 917.5,785.3 933.5,783.7 949.5,760.7 965.5,762.3 981.5,763 997.5,763 1013.5,763 1029.5,763 1045.5,764.7 1061.5,764.7 1077.5,764.7 1093.5,764 1109.5,760.8 1125.5,774.2 1141.5,768 1157.5,762.2 1173.5,760.8 1189.5,764 1205.5,765.5 1221.5,765.5 1237.5,778.5 1253.5,778.5 1269.5,777.4 1285.5,777.4 1301.5,786.8 1317.5,782.8 1333.5,782.8 1349.5,789.7 1365.5,786.5" fill="none" stroke="#1e90ff" stroke-width="2" stroke-linejoin="round"/>
<text x="9" y="736" font-size="10" fill="#000" stroke="#000" stroke-width="0.18" textLength="68" lengthAdjust="spacingAndGlyphs">RSI(14) 39.2510</text>
<text x="1648" y="734" font-size="10" fill="#000" stroke="#000" stroke-width="0.18" textLength="14.7" lengthAdjust="spacingAndGlyphs">100</text>
<text x="1648" y="749" font-size="10" fill="#000" stroke="#000" stroke-width="0.18" textLength="9.2" lengthAdjust="spacingAndGlyphs">80</text>
<text x="1648" y="779" font-size="10" fill="#000" stroke="#000" stroke-width="0.18" textLength="9.2" lengthAdjust="spacingAndGlyphs">50</text>
<text x="1648" y="815" font-size="10" fill="#000" stroke="#000" stroke-width="0.18" textLength="9.5" lengthAdjust="spacingAndGlyphs">15</text>
<text x="1648" y="824" font-size="10" fill="#000" stroke="#000" stroke-width="0.18" textLength="4.8" lengthAdjust="spacingAndGlyphs">0</text>
<rect x="5" y="828" width="1" height="3" fill="#000" shape-rendering="crispEdges"/>
<text x="4" y="840" font-size="10" fill="#000" stroke="#000" stroke-width="0.18" textLength="41.5" lengthAdjust="spacingAndGlyphs">6 Jul 2023</text>
<rect x="69" y="828" width="1" height="3" fill="#000" shape-rendering="crispEdges"/>
<text x="68" y="840" font-size="10" fill="#000" stroke="#000" stroke-width="0.18" textLength="44.4" lengthAdjust="spacingAndGlyphs">7 Jul 08:00</text>
<rect x="133" y="828" width="1" height="3" fill="#000" shape-rendering="crispEdges"/>
<text x="132" y="840" font-size="10" fill="#000" stroke="#000" stroke-width="0.18" textLength="49.7" lengthAdjust="spacingAndGlyphs">10 Jul 00:00</text>
<rect x="197" y="828" width="1" height="3" fill="#000" shape-rendering="crispEdges"/>
<text x="196" y="840" font-size="10" fill="#000" stroke="#000" stroke-width="0.18" textLength="49.7" lengthAdjust="spacingAndGlyphs">10 Jul 16:00</text>
<rect x="261" y="828" width="1" height="3" fill="#000" shape-rendering="crispEdges"/>
<text x="260" y="840" font-size="10" fill="#000" stroke="#000" stroke-width="0.18" textLength="49.7" lengthAdjust="spacingAndGlyphs">11 Jul 08:00</text>
<rect x="325" y="828" width="1" height="3" fill="#000" shape-rendering="crispEdges"/>
<text x="324" y="840" font-size="10" fill="#000" stroke="#000" stroke-width="0.18" textLength="49.7" lengthAdjust="spacingAndGlyphs">12 Jul 00:00</text>
<rect x="389" y="828" width="1" height="3" fill="#000" shape-rendering="crispEdges"/>
<text x="388" y="840" font-size="10" fill="#000" stroke="#000" stroke-width="0.18" textLength="49.7" lengthAdjust="spacingAndGlyphs">12 Jul 16:00</text>
<rect x="453" y="828" width="1" height="3" fill="#000" shape-rendering="crispEdges"/>
<text x="452" y="840" font-size="10" fill="#000" stroke="#000" stroke-width="0.18" textLength="49.7" lengthAdjust="spacingAndGlyphs">13 Jul 08:00</text>
<rect x="517" y="828" width="1" height="3" fill="#000" shape-rendering="crispEdges"/>
<text x="516" y="840" font-size="10" fill="#000" stroke="#000" stroke-width="0.18" textLength="49.7" lengthAdjust="spacingAndGlyphs">14 Jul 00:00</text>
<rect x="581" y="828" width="1" height="3" fill="#000" shape-rendering="crispEdges"/>
<text x="580" y="840" font-size="10" fill="#000" stroke="#000" stroke-width="0.18" textLength="49.7" lengthAdjust="spacingAndGlyphs">14 Jul 16:00</text>
<rect x="645" y="828" width="1" height="3" fill="#000" shape-rendering="crispEdges"/>
<text x="644" y="840" font-size="10" fill="#000" stroke="#000" stroke-width="0.18" textLength="49.7" lengthAdjust="spacingAndGlyphs">17 Jul 08:00</text>
<rect x="709" y="828" width="1" height="3" fill="#000" shape-rendering="crispEdges"/>
<text x="708" y="840" font-size="10" fill="#000" stroke="#000" stroke-width="0.18" textLength="49.7" lengthAdjust="spacingAndGlyphs">18 Jul 00:00</text>
<rect x="773" y="828" width="1" height="3" fill="#000" shape-rendering="crispEdges"/>
<text x="772" y="840" font-size="10" fill="#000" stroke="#000" stroke-width="0.18" textLength="49.7" lengthAdjust="spacingAndGlyphs">18 Jul 16:00</text>
<rect x="837" y="828" width="1" height="3" fill="#000" shape-rendering="crispEdges"/>
<text x="836" y="840" font-size="10" fill="#000" stroke="#000" stroke-width="0.18" textLength="49.7" lengthAdjust="spacingAndGlyphs">19 Jul 08:00</text>
<rect x="901" y="828" width="1" height="3" fill="#000" shape-rendering="crispEdges"/>
<text x="900" y="840" font-size="10" fill="#000" stroke="#000" stroke-width="0.18" textLength="49.7" lengthAdjust="spacingAndGlyphs">20 Jul 00:00</text>
<rect x="965" y="828" width="1" height="3" fill="#000" shape-rendering="crispEdges"/>
<text x="964" y="840" font-size="10" fill="#000" stroke="#000" stroke-width="0.18" textLength="49.7" lengthAdjust="spacingAndGlyphs">20 Jul 16:00</text>
<rect x="1029" y="828" width="1" height="3" fill="#000" shape-rendering="crispEdges"/>
<text x="1028" y="840" font-size="10" fill="#000" stroke="#000" stroke-width="0.18" textLength="49.7" lengthAdjust="spacingAndGlyphs">21 Jul 08:00</text>
<rect x="1093" y="828" width="1" height="3" fill="#000" shape-rendering="crispEdges"/>
<text x="1092" y="840" font-size="10" fill="#000" stroke="#000" stroke-width="0.18" textLength="49.7" lengthAdjust="spacingAndGlyphs">24 Jul 00:00</text>
<rect x="1157" y="828" width="1" height="3" fill="#000" shape-rendering="crispEdges"/>
<text x="1156" y="840" font-size="10" fill="#000" stroke="#000" stroke-width="0.18" textLength="49.7" lengthAdjust="spacingAndGlyphs">24 Jul 16:00</text>
<rect x="1221" y="828" width="1" height="3" fill="#000" shape-rendering="crispEdges"/>
<text x="1220" y="840" font-size="10" fill="#000" stroke="#000" stroke-width="0.18" textLength="49.7" lengthAdjust="spacingAndGlyphs">25 Jul 08:00</text>
<rect x="1285" y="828" width="1" height="3" fill="#000" shape-rendering="crispEdges"/>
<text x="1284" y="840" font-size="10" fill="#000" stroke="#000" stroke-width="0.18" textLength="49.7" lengthAdjust="spacingAndGlyphs">26 Jul 00:00</text>
<rect x="1349" y="828" width="1" height="3" fill="#000" shape-rendering="crispEdges"/>
<text x="1348" y="840" font-size="10" fill="#000" stroke="#000" stroke-width="0.18" textLength="49.7" lengthAdjust="spacingAndGlyphs">26 Jul 16:00</text>
<g id="toolbar">
<defs>
<linearGradient id="gGreen" x1="0" y1="0" x2="0" y2="1"><stop offset="0" stop-color="#6cf06c"/><stop offset="0.5" stop-color="#2cd82c"/><stop offset="1" stop-color="#0cb40c"/></linearGradient>
<linearGradient id="gGold" x1="0" y1="0" x2="1" y2="1"><stop offset="0" stop-color="#fbe070"/><stop offset="0.5" stop-color="#efc030"/><stop offset="1" stop-color="#c48a14"/></linearGradient>
<linearGradient id="gBlue" x1="0" y1="0" x2="0" y2="1"><stop offset="0" stop-color="#5db4f5"/><stop offset="1" stop-color="#1a6fd0"/></linearGradient>
<linearGradient id="gRed" x1="0" y1="0" x2="0" y2="1"><stop offset="0" stop-color="#ea5030"/><stop offset="1" stop-color="#d62a12"/></linearGradient>
<linearGradient id="gSig" x1="0" y1="0" x2="1" y2="0"><stop offset="0" stop-color="#3a6fd8"/><stop offset="0.5" stop-color="#6a9fd8"/><stop offset="1" stop-color="#3aa040"/></linearGradient>
<pattern id="chk" width="2" height="2" patternUnits="userSpaceOnUse"><rect width="2" height="2" fill="#fff"/><rect width="1" height="1" fill="#ececec"/><rect x="1" y="1" width="1" height="1" fill="#ececec"/></pattern>
<linearGradient id="gClk" x1="0" y1="0" x2="0" y2="1"><stop offset="0" stop-color="#3a8cec"/><stop offset="1" stop-color="#0a50b8"/></linearGradient>
</defs>
<rect x="5" y="1" width="1" height="21" fill="#a0a0a0" shape-rendering="crispEdges"/>
<path d="M15.5,5h7.5l3.5,3.5v9h-11z" fill="#fdfdfd" stroke="#707070" stroke-width="0.9"/>
<path d="M23,5v3.5h3.5" fill="#e4e4e4" stroke="#707070" stroke-width="0.8"/>
<path d="M17.5,7.5h3M17.5,10.5h6M17.5,12.5h5M17.5,14.5h3" stroke="#909090" stroke-width="0.9"/>
<path d="M23.2,10.4h3.6v3.8h3.8v3.6h-3.8v3.8h-3.6v-3.8h-3.8v-3.6h3.8z" fill="url(#gGreen)" stroke="#0c8c0c" stroke-width="0.9"/>
<text x="33.8" y="15.2" font-size="11.5" fill="#000" stroke="#000" stroke-width="0.2" textLength="36.2" lengthAdjust="spacingAndGlyphs">新订单</text>
<path d="M82,14.4L87.6,5.3L97.8,12.4L97.6,14.6L90.4,20.3L82,15.6z" fill="#9a6a10" stroke="#8a5c08" stroke-width="0.6" stroke-linejoin="round"/>
<path d="M82.4,14.9L90.3,19.3L97.4,13.6" fill="none" stroke="#f4ecd0" stroke-width="0.8"/>
<path d="M82,14.2L87.6,5.3L97.8,12.4L90.3,18.4z" fill="url(#gGold)" stroke="#b88414" stroke-width="0.7" stroke-linejoin="round"/>
<path d="M112.4,5.6l4,-1.4l6.6,1v8.4h-10.6z" fill="#2a96f0" stroke="#1a86e8" stroke-width="0.6"/>
<path d="M116.6,5.8l5.8,0.6v7.2h-5.8z" fill="#e8f4ff"/>
<path d="M117.6,8.4h4M117.6,10.4h4" stroke="#3a9af0" stroke-width="0.9"/>
<path d="M113.2,19.3a2.9,2.9 0 0 1 -0.2,-5.6a3.2,2.6 0 0 1 5.8,-0.9a3,2.6 0 0 1 4.2,1.5a2.5,2.5 0 0 1 -0.4,5z" fill="#f2f5fb" stroke="#6f8fc4" stroke-width="0.9"/>
<path d="M112.6,18.4h10.6" stroke="#c4d0e4" stroke-width="1"/>
<g fill="none" stroke="url(#gSig)"><circle cx="146.1" cy="11.5" r="7.4" stroke-width="1.3" opacity="0.6"/><circle cx="146.1" cy="11.5" r="5" stroke-width="1.2" opacity="0.45"/><circle cx="146.1" cy="11.5" r="2.7" stroke-width="1.2" opacity="0.6"/></g>
<circle cx="146.1" cy="11.5" r="1.4" fill="#2a5fd0"/>
<path d="M146.3,12V19.6" stroke="#22a030" stroke-width="1.4"/>
<path d="M146.3,19.2A7.6,7.6 0 0 0 153.5,12.5" stroke="#2aa838" stroke-width="1.4" fill="none" opacity="0.8"/>
<path d="M166,11.2L172.8,19.6L180.4,11.2z" fill="#f8dc58" stroke="#e0a828" stroke-width="0.7"/>
<path d="M165.2,8.6c1,3 4,3.6 7.7,3.6c3.8,0 6.8,-0.6 7.9,-4c-2,1.4 -4.5,1.8 -7.8,1.8c-3.3,0 -5.9,-0.2 -7.8,-1.4z" fill="#4a98cc" stroke="#3a86bc" stroke-width="0.6"/>
<path d="M169.4,9.6c0,-3 1,-4.9 3.5,-4.9c2.5,0 3.7,1.8 3.7,4.7c-2.3,0.9 -4.9,0.9 -7.2,0.2z" fill="#6ab4e0" stroke="#3a86bc" stroke-width="0.6"/>
<circle cx="177.6" cy="15.8" r="3.9" fill="#d82818" stroke="#b01808" stroke-width="0.5"/>
<rect x="176.1" y="14.3" width="3" height="3" fill="#fff"/>
<text x="186.8" y="15.2" font-size="11.5" fill="#000" stroke="#000" stroke-width="0.2" textLength="47.5" lengthAdjust="spacingAndGlyphs">自动交易</text>
<rect x="241" y="0" width="1" height="24" fill="#a0a0a0" shape-rendering="crispEdges"/><rect x="242" y="0" width="1" height="24" fill="#fff" shape-rendering="crispEdges"/>
<rect x="245" y="2" width="3" height="1" fill="#a6a6a6" shape-rendering="crispEdges"/>
<rect x="245" y="4" width="3" height="1" fill="#a6a6a6" shape-rendering="crispEdges"/>
<rect x="245" y="6" width="3" height="1" fill="#a6a6a6" shape-rendering="crispEdges"/>
<rect x="245" y="8" width="3" height="1" fill="#a6a6a6" shape-rendering="crispEdges"/>
<rect x="245" y="10" width="3" height="1" fill="#a6a6a6" shape-rendering="crispEdges"/>
<rect x="245" y="12" width="3" height="1" fill="#a6a6a6" shape-rendering="crispEdges"/>
<rect x="245" y="14" width="3" height="1" fill="#a6a6a6" shape-rendering="crispEdges"/>
<rect x="245" y="16" width="3" height="1" fill="#a6a6a6" shape-rendering="crispEdges"/>
<rect x="245" y="18" width="3" height="1" fill="#a6a6a6" shape-rendering="crispEdges"/>
<rect x="245" y="20" width="3" height="1" fill="#a6a6a6" shape-rendering="crispEdges"/>
<g stroke="#505050" stroke-width="1.2" fill="none"><path d="M259.3,6.8V19.6M257.3,17.5H270.3"/></g>
<path d="M257.8,8.4L259.3,6.4L260.8,8.4M268.7,16L270.6,17.5L268.7,19" fill="none" stroke="#505050" stroke-width="1"/>
<path d="M266.1,7.6V14.8M266.1,8.2h2M266.1,14.4h-2.6" stroke="#109010" stroke-width="1.3" fill="none"/>
<rect x="279" y="0" width="25" height="22" fill="url(#chk)" shape-rendering="crispEdges"/>
<rect x="279" y="0" width="25" height="1" fill="#a0a0a0" shape-rendering="crispEdges"/>
<rect x="279" y="0" width="1" height="22" fill="#a0a0a0" shape-rendering="crispEdges"/>
<rect x="279" y="22" width="26" height="1" fill="#fff" shape-rendering="crispEdges"/>
<rect x="304" y="1" width="1" height="22" fill="#fff" shape-rendering="crispEdges"/>
<g stroke="#505050" stroke-width="1.2" fill="none"><path d="M287.4,6.8V19.6M285.4,17.5H298.4"/></g>
<path d="M285.9,8.4L287.4,6.4L288.9,8.4M296.79999999999995,16L298.7,17.5L296.79999999999995,19" fill="none" stroke="#505050" stroke-width="1"/>
<path d="M293.6,4.2V15.8" stroke="#10a010" stroke-width="1.2"/>
<rect x="291.6" y="6.6" width="4" height="7.2" fill="#3ad83a" stroke="#10a010" stroke-width="0.8"/>
<g stroke="#505050" stroke-width="1.2" fill="none"><path d="M315.4,6.8V19.6M313.4,17.5H326.4"/></g>
<path d="M313.9,8.4L315.4,6.4L316.9,8.4M324.79999999999995,16L326.7,17.5L324.79999999999995,19" fill="none" stroke="#505050" stroke-width="1"/>
<path d="M314.1,14.6C316.5,13.6 318,9.2 320,9.2C322,9.2 323.5,12.5 325.8,13.2" stroke="#2a9a3a" stroke-width="1.2" fill="none"/>
<rect x="336" y="1" width="1" height="21" fill="#a0a0a0" shape-rendering="crispEdges"/>
<path d="M354.6,14.6L360,18.6" stroke="#b8860c" stroke-width="3.2" stroke-linecap="round"/>
<path d="M355,14.4L360,18.2" stroke="#f4d848" stroke-width="1.6"/>
<circle cx="351" cy="10" r="5.5" fill="#d4ecfc" stroke="#3a80d0" stroke-width="1.3"/>
<path d="M347.8,10h6.4" stroke="#4a8cb8" stroke-width="1.8"/>
<path d="M351,6.8v6.4" stroke="#4a8cb8" stroke-width="1.8"/>
<path d="M382.8,14.6L388.2,18.6" stroke="#b8860c" stroke-width="3.2" stroke-linecap="round"/>
<path d="M383.2,14.4L388.2,18.2" stroke="#f4d848" stroke-width="1.6"/>
<circle cx="379.2" cy="10" r="5.5" fill="#d4ecfc" stroke="#3a80d0" stroke-width="1.3"/>
<path d="M376.0,10h6.4" stroke="#4a8cb8" stroke-width="1.8"/>
<rect x="401" y="4.2" width="7.8" height="7.8" fill="#56b02a"/>
<rect x="401" y="4.2" width="7.8" height="2.2" fill="#2e8c10"/>
<path d="M402.2,7.6h5.6v3.6h-5.6z" fill="#fff" opacity="0.95"/>
<path d="M403.6,9.8h2.8v1.4h-2.8z" fill="#56b02a" opacity="0.75"/>
<rect x="401.8" y="5.0" width="1" height="0.9" fill="#fff" opacity="0.8"/>
<rect x="409" y="4.2" width="7.8" height="7.8" fill="#3a74e4"/>
<rect x="409" y="4.2" width="7.8" height="2.2" fill="#1848b8"/>
<path d="M410.2,7.6h5.6v3.6h-5.6z" fill="#fff" opacity="0.95"/>
<path d="M411.6,9.8h2.8v1.4h-2.8z" fill="#3a74e4" opacity="0.75"/>
<rect x="409.8" y="5.0" width="1" height="0.9" fill="#fff" opacity="0.8"/>
<rect x="401" y="12.2" width="7.8" height="7.8" fill="#3a74e4"/>
<rect x="401" y="12.2" width="7.8" height="2.2" fill="#1848b8"/>
<path d="M402.2,15.6h5.6v3.6h-5.6z" fill="#fff" opacity="0.95"/>
<path d="M403.6,17.799999999999997h2.8v1.4h-2.8z" fill="#3a74e4" opacity="0.75"/>
<rect x="401.8" y="13.0" width="1" height="0.9" fill="#fff" opacity="0.8"/>
<rect x="409" y="12.2" width="7.8" height="7.8" fill="#56b02a"/>
<rect x="409" y="12.2" width="7.8" height="2.2" fill="#2e8c10"/>
<path d="M410.2,15.6h5.6v3.6h-5.6z" fill="#fff" opacity="0.95"/>
<path d="M411.6,17.799999999999997h2.8v1.4h-2.8z" fill="#56b02a" opacity="0.75"/>
<rect x="409.8" y="13.0" width="1" height="0.9" fill="#fff" opacity="0.8"/>
<rect x="426" y="1" width="1" height="21" fill="#a0a0a0" shape-rendering="crispEdges"/>
<rect x="431" y="0" width="25" height="22" fill="url(#chk)" shape-rendering="crispEdges"/>
<rect x="431" y="0" width="25" height="1" fill="#a0a0a0" shape-rendering="crispEdges"/>
<rect x="431" y="0" width="1" height="22" fill="#a0a0a0" shape-rendering="crispEdges"/>
<rect x="431" y="22" width="26" height="1" fill="#fff" shape-rendering="crispEdges"/>
<rect x="456" y="1" width="1" height="22" fill="#fff" shape-rendering="crispEdges"/>
<g stroke="#505050" stroke-width="1.2" fill="none"><path d="M439.5,6.8V19.6M437.5,17.5H450.5"/></g>
<path d="M438.0,8.4L439.5,6.4L441.0,8.4M448.9,16L450.8,17.5L448.9,19" fill="none" stroke="#505050" stroke-width="1"/>
<polygon points="444.3,8 444.3,15 448,11.5" fill="#8ee88e" stroke="#10a010" stroke-width="0.9"/>
<rect x="459" y="0" width="25" height="22" fill="url(#chk)" shape-rendering="crispEdges"/>
<rect x="459" y="0" width="25" height="1" fill="#a0a0a0" shape-rendering="crispEdges"/>
<rect x="459" y="0" width="1" height="22" fill="#a0a0a0" shape-rendering="crispEdges"/>
<rect x="459" y="22" width="26" height="1" fill="#fff" shape-rendering="crispEdges"/>
<rect x="484" y="1" width="1" height="22" fill="#fff" shape-rendering="crispEdges"/>
<g stroke="#505050" stroke-width="1.2" fill="none"><path d="M467.4,6.8V19.6M465.4,17.5H478.4"/></g>
<path d="M465.9,8.4L467.4,6.4L468.9,8.4M476.79999999999995,16L478.7,17.5L476.79999999999995,19" fill="none" stroke="#505050" stroke-width="1"/>
<path d="M473.6,6.1V15.8" stroke="#1a6aa8" stroke-width="1.2"/>
<path d="M474.6,11.5H478.8" stroke="#e04a10" stroke-width="1.2"/><polygon points="474.4,11.5 477,9.3 477,13.7" fill="#e04a10"/>
<rect x="488" y="1" width="1" height="21" fill="#a0a0a0" shape-rendering="crispEdges"/>
<path d="M498.5,5h7.5l3.5,3.5v9h-11z" fill="#fdfdfd" stroke="#707070" stroke-width="0.9"/>
<path d="M506,5v3.5h3.5" fill="#e4e4e4" stroke="#707070" stroke-width="0.8"/>
<path d="M502.6,7.2c-1.4,0 -1.4,1 -1.4,2.5v5" stroke="#5a5a30" stroke-width="0.9" fill="none"/>
<path d="M506.2,10.4h3.6v3.8h3.8v3.6h-3.8v3.8h-3.6v-3.8h-3.8v-3.6h3.8z" fill="url(#gGreen)" stroke="#0c8c0c" stroke-width="0.9"/>
<polygon points="520,11.2 525.2,11.2 522.6,14.2" fill="#000"/>
<circle cx="543.9" cy="11.9" r="6.6" fill="#fdfdfd" stroke="url(#gClk)" stroke-width="2.4"/>
<circle cx="543.90" cy="7.50" r="0.35" fill="#8a8a8a"/>
<circle cx="546.10" cy="8.09" r="0.35" fill="#8a8a8a"/>
<circle cx="547.71" cy="9.70" r="0.35" fill="#8a8a8a"/>
<circle cx="548.30" cy="11.90" r="0.35" fill="#8a8a8a"/>
<circle cx="547.71" cy="14.10" r="0.35" fill="#8a8a8a"/>
<circle cx="546.10" cy="15.71" r="0.35" fill="#8a8a8a"/>
<circle cx="543.90" cy="16.30" r="0.35" fill="#8a8a8a"/>
<circle cx="541.70" cy="15.71" r="0.35" fill="#8a8a8a"/>
<circle cx="540.09" cy="14.10" r="0.35" fill="#8a8a8a"/>
<circle cx="539.50" cy="11.90" r="0.35" fill="#8a8a8a"/>
<circle cx="540.09" cy="9.70" r="0.35" fill="#8a8a8a"/>
<circle cx="541.70" cy="8.09" r="0.35" fill="#8a8a8a"/>
<path d="M543.9,7.6V12H547" stroke="#303030" stroke-width="1" fill="none"/>
<polygon points="559,11.2 564.2,11.2 561.6,14.2" fill="#000"/>
<rect x="575.4" y="5.2" width="15.2" height="13.4" fill="#fff" stroke="#2a6ac8" stroke-width="1"/>
<rect x="575.4" y="5.2" width="15.2" height="2.4" fill="#4a8ee0"/>
<path d="M575.4,13.2h15.2" stroke="#2a6ac8" stroke-width="0.9"/>
<path d="M577.2,11.4l2,-0.2l1.8,-1.6l2,0.8l2,0l2.6,-1.2" stroke="#b02810" stroke-width="1.2" fill="none"/>
<path d="M577.8,16.4l2,-0.8l1.6,0.8l2.6,-2.2l2.2,0.4l1.6,1.6" stroke="#1a9a2a" stroke-width="1.2" fill="none"/>
<polygon points="597.8,11.2 603.0,11.2 600.4,14.2" fill="#000"/>
<rect x="609" y="0" width="1" height="24" fill="#a0a0a0" shape-rendering="crispEdges"/><rect x="610" y="0" width="1" height="24" fill="#fff" shape-rendering="crispEdges"/>
<rect x="613" y="2" width="3" height="1" fill="#a6a6a6" shape-rendering="crispEdges"/>
<rect x="613" y="4" width="3" height="1" fill="#a6a6a6" shape-rendering="crispEdges"/>
<rect x="613" y="6" width="3" height="1" fill="#a6a6a6" shape-rendering="crispEdges"/>
<rect x="613" y="8" width="3" height="1" fill="#a6a6a6" shape-rendering="crispEdges"/>
<rect x="613" y="10" width="3" height="1" fill="#a6a6a6" shape-rendering="crispEdges"/>
<rect x="613" y="12" width="3" height="1" fill="#a6a6a6" shape-rendering="crispEdges"/>
<rect x="613" y="14" width="3" height="1" fill="#a6a6a6" shape-rendering="crispEdges"/>
<rect x="613" y="16" width="3" height="1" fill="#a6a6a6" shape-rendering="crispEdges"/>
<rect x="613" y="18" width="3" height="1" fill="#a6a6a6" shape-rendering="crispEdges"/>
<rect x="613" y="20" width="3" height="1" fill="#a6a6a6" shape-rendering="crispEdges"/>
<rect x="619" y="0" width="25" height="22" fill="url(#chk)" shape-rendering="crispEdges"/>
<rect x="619" y="0" width="25" height="1" fill="#a0a0a0" shape-rendering="crispEdges"/>
<rect x="619" y="0" width="1" height="22" fill="#a0a0a0" shape-rendering="crispEdges"/>
<rect x="619" y="22" width="26" height="1" fill="#fff" shape-rendering="crispEdges"/>
<rect x="644" y="1" width="1" height="22" fill="#fff" shape-rendering="crispEdges"/>
<path d="M627.2,5V16L629.8,13.6L632.4,19L634.2,18.2L631.8,13L635.2,12.6z" fill="#4a4a4a"/>
<path d="M652,12.3h6M661,12.3h6M659.5,5v5.8M659.5,13.8v6" stroke="#505050" stroke-width="1.1"/><rect x="659.2" y="12" width="0.7" height="0.7" fill="#505050"/>
<rect x="676" y="1" width="1" height="21" fill="#a0a0a0" shape-rendering="crispEdges"/>
<path d="M693.4,6.1V18.8" stroke="#505050" stroke-width="1.1"/>
<path d="M716,12.3H728" stroke="#505050" stroke-width="1.1"/>
<path d="M743.8,18.8L756,6.9" stroke="#505050" stroke-width="1"/>
<g stroke="#505050" stroke-width="1" fill="none"><path d="M769.8,13.8L778.6,6.2M772,18.4L783.4,9.6M770.6,16.4L782.6,7.8"/><path d="M773,11.4l0.8,6M775.8,9.4l0.8,6M778.6,7l0.8,6M781.6,4.4l1,5.6"/></g>
<text x="780.8" y="20.6" font-size="6.4" font-weight="bold" fill="#404040">E</text>
<path d="M799,5.4H811.9" stroke="#505050" stroke-width="1" stroke-dasharray="1 1.2"/>
<path d="M799,8.4H811.9" stroke="#505050" stroke-width="1" stroke-dasharray="1 1.2"/>
<path d="M799,12.3H811.9" stroke="#505050" stroke-width="1" stroke-dasharray="1 1.2"/>
<path d="M799,16.1H808" stroke="#505050" stroke-width="1" stroke-dasharray="1 1.2"/>
<text x="808.8" y="20.6" font-size="6.4" font-weight="bold" fill="#404040">F</text>
<text x="829.6" y="16.9" font-size="12.4" fill="#505050" stroke="#505050" stroke-width="0.3" textLength="8.4" lengthAdjust="spacingAndGlyphs">A</text>
<rect x="856.2" y="6.2" width="11" height="12.4" fill="none" stroke="#505050" stroke-width="1" stroke-dasharray="1 1.2"/>
<rect x="855.4" y="5.2" width="1.6" height="1.2" fill="#505050"/>
<text x="857.4" y="16.5" font-size="10.2" fill="#505050" stroke="#505050" stroke-width="0.4" textLength="8.4" lengthAdjust="spacingAndGlyphs">T</text>
<polygon points="886.4,5.8 890,9 886.4,10.6 883,9" fill="#505050"/>
<polygon points="893.8,18.8 897.4,15.4 893.8,14 890.2,15.4" fill="#505050"/>
<path d="M885,13l2.2,2.2l4.6,-5" stroke="#505050" stroke-width="1.2" fill="none"/>
<polygon points="903.8,11.2 909.0,11.2 906.4,14.2" fill="#000"/>
<rect x="915" y="0" width="1" height="24" fill="#a0a0a0" shape-rendering="crispEdges"/><rect x="916" y="0" width="1" height="24" fill="#fff" shape-rendering="crispEdges"/>
<rect x="919" y="2" width="3" height="1" fill="#a6a6a6" shape-rendering="crispEdges"/>
<rect x="919" y="4" width="3" height="1" fill="#a6a6a6" shape-rendering="crispEdges"/>
<rect x="919" y="6" width="3" height="1" fill="#a6a6a6" shape-rendering="crispEdges"/>
<rect x="919" y="8" width="3" height="1" fill="#a6a6a6" shape-rendering="crispEdges"/>
<rect x="919" y="10" width="3" height="1" fill="#a6a6a6" shape-rendering="crispEdges"/>
<rect x="919" y="12" width="3" height="1" fill="#a6a6a6" shape-rendering="crispEdges"/>
<rect x="919" y="14" width="3" height="1" fill="#a6a6a6" shape-rendering="crispEdges"/>
<rect x="919" y="16" width="3" height="1" fill="#a6a6a6" shape-rendering="crispEdges"/>
<rect x="919" y="18" width="3" height="1" fill="#a6a6a6" shape-rendering="crispEdges"/>
<rect x="919" y="20" width="3" height="1" fill="#a6a6a6" shape-rendering="crispEdges"/>
<text x="930.7" y="15.9" font-size="10" fill="#383838" stroke="#383838" stroke-width="0.2" textLength="12.3" lengthAdjust="spacingAndGlyphs">M1</text>
<text x="958.8" y="15.9" font-size="10" fill="#383838" stroke="#383838" stroke-width="0.2" textLength="12.2" lengthAdjust="spacingAndGlyphs">M5</text>
<text x="984.9" y="15.9" font-size="10" fill="#383838" stroke="#383838" stroke-width="0.2" textLength="17.3" lengthAdjust="spacingAndGlyphs">M15</text>
<text x="1012.7" y="15.9" font-size="10" fill="#383838" stroke="#383838" stroke-width="0.2" textLength="17.4" lengthAdjust="spacingAndGlyphs">M30</text>
<text x="1043.8" y="15.9" font-size="10" fill="#383838" stroke="#383838" stroke-width="0.2" textLength="11.1" lengthAdjust="spacingAndGlyphs">H1</text>
<rect x="1065" y="0" width="25" height="22" fill="url(#chk)" shape-rendering="crispEdges"/>
<rect x="1065" y="0" width="25" height="1" fill="#a0a0a0" shape-rendering="crispEdges"/>
<rect x="1065" y="0" width="1" height="22" fill="#a0a0a0" shape-rendering="crispEdges"/>
<rect x="1065" y="22" width="26" height="1" fill="#fff" shape-rendering="crispEdges"/>
<rect x="1090" y="1" width="1" height="22" fill="#fff" shape-rendering="crispEdges"/>
<text x="1070.7" y="15.9" font-size="10" fill="#383838" stroke="#383838" stroke-width="0.2" textLength="11.9" lengthAdjust="spacingAndGlyphs">H4</text>
<text x="1099.5" y="15.9" font-size="10" fill="#383838" stroke="#383838" stroke-width="0.2" textLength="11.5" lengthAdjust="spacingAndGlyphs">D1</text>
<text x="1127" y="15.9" font-size="10" fill="#383838" stroke="#383838" stroke-width="0.2" textLength="13.9" lengthAdjust="spacingAndGlyphs">W1</text>
<text x="1153.8" y="15.9" font-size="10" fill="#383838" stroke="#383838" stroke-width="0.2" textLength="14.5" lengthAdjust="spacingAndGlyphs">MN</text>
<rect x="1176" y="0" width="1" height="24" fill="#a0a0a0" shape-rendering="crispEdges"/><rect x="1177" y="0" width="1" height="24" fill="#fff" shape-rendering="crispEdges"/>
<path d="M1643.6,12.6L1639.2,16.4" stroke="#2a5ad0" stroke-width="2.6" stroke-linecap="round"/>
<circle cx="1646.8" cy="9.2" r="3.7" fill="#f4f8ff" stroke="#2a5ad0" stroke-width="1.3"/>
<path d="M1663.2,14a5.4,4.3 0 1 1 6.4,4.2l-2.8,0.2l-0.4,1.8l-0.9,-2.2a5.4,4.3 0 0 1 -2.3,-4z" fill="#dcdce4" stroke="#b4b4bc" stroke-width="0.7"/>
<circle cx="1677.5" cy="9.2" r="8.3" fill="url(#gRed)"/>
<text x="1673.4" y="14.1" font-size="12.6" fill="#fff" textLength="5.6" lengthAdjust="spacingAndGlyphs">1</text>
</g>
</svg>
</body></html>
